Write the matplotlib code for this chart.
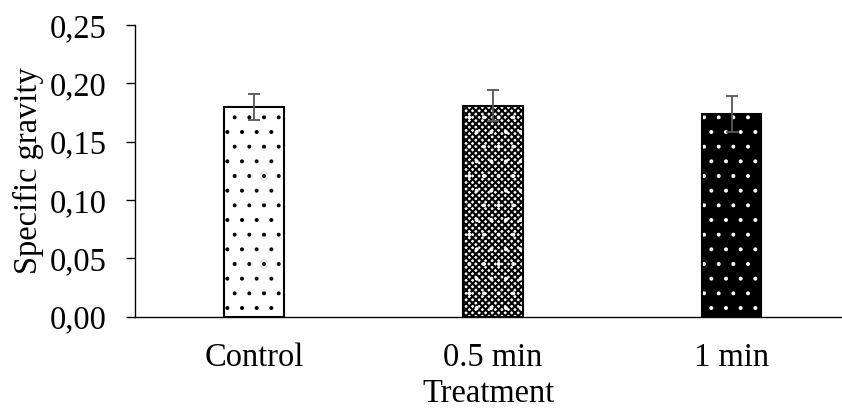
import matplotlib
matplotlib.use('Agg')
import matplotlib.pyplot as plt
import numpy as np

treatments = ['Control', '0.5 min', '1 min']
gravity = [0.180, 0.181, 0.174]
gravity_err = [0.011, 0.013, 0.0155]
yticks = [0.00, 0.05, 0.10, 0.15, 0.20, 0.25]

plt.rcParams['font.family'] = ['Liberation Serif', 'DejaVu Serif']
plt.rcParams['hatch.linewidth'] = 0.4

dpi = 176
fig = plt.figure(figsize=(842 / dpi, 411 / dpi), dpi=dpi)
ax = fig.add_axes([135 / 842, 1 - 316.7 / 411, 1 - 135 / 842, (316.7 - 25.2) / 411])

x = np.arange(len(treatments))
w = 0.251

# Control: black dots on white
ax.bar(x[0], gravity[0], w, color='white', edgecolor='black', hatch='..', linewidth=0)
# 0.5 min: dense checker with white dots
checker = ax.bar(x[1], gravity[1], w, color='white', edgecolor='black', hatch='xxxxxxxxx', linewidth=0)
for p in checker:
    if hasattr(p, 'set_hatch_linewidth'):
        p.set_hatch_linewidth(0.85)
ax.bar(x[1], gravity[1], w, color='none', edgecolor='white', hatch='..', linewidth=0)
# 1 min: white dots on black
ax.bar(x[2], gravity[2], w, color='black', edgecolor='white', hatch='..', linewidth=0)
# outlines
ax.bar(x, gravity, w, color='none', edgecolor='black', linewidth=0.85, zorder=3)

ax.errorbar(x, gravity, yerr=gravity_err, fmt='none', ecolor='#595959',
            elinewidth=0.75, capsize=2.5, capthick=0.75, zorder=4)

ax.set_xlim(-0.5, 2.463)
ax.set_ylim(0, 0.25)
ax.set_yticks(yticks)
ax.set_yticklabels([f'{v:.2f}'.replace('.', ',') for v in yticks])
ax.set_xticks(x)
ax.set_xticklabels(treatments)

ax.spines['top'].set_visible(False)
ax.spines['right'].set_visible(False)
ax.spines['left'].set_linewidth(0.56)
ax.spines['bottom'].set_linewidth(0.56)
ax.tick_params(axis='y', direction='out', length=3.75, width=0.56, labelsize=13.3, pad=7.8)
ax.tick_params(axis='x', length=0, labelsize=13.3, pad=10.6)

ax.set_xlabel('Treatment', fontsize=13.3, labelpad=2)
ax.set_ylabel('Specific gravity', fontsize=13.3)
ax.yaxis.set_label_coords(-0.129, 0.5)

fig.savefig('out.png', dpi=dpi)
